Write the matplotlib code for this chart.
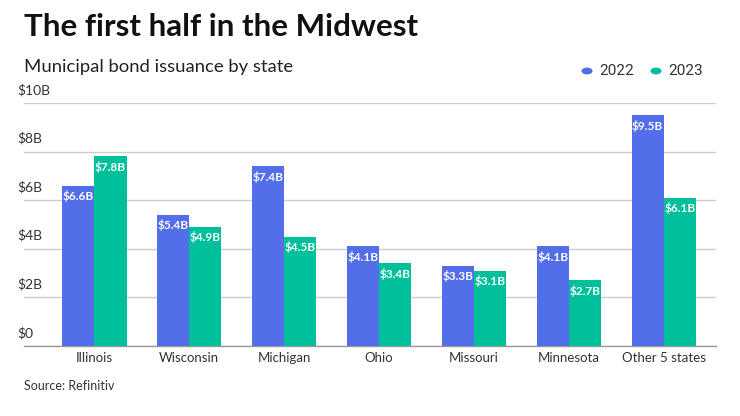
import numpy as np
import matplotlib.pyplot as plt

# data (billions of dollars)
states = ["Illinois", "Wisconsin", "Michigan", "Ohio", "Missouri", "Minnesota", "Other 5 states"]
y2022 = [6.6, 5.4, 7.4, 4.1, 3.3, 4.1, 9.5]
y2023 = [7.8, 4.9, 4.5, 3.4, 3.1, 2.7, 6.1]
yticks = [0, 2, 4, 6, 8, 10]
ytick_labels = ["$0", "$2B", "$4B", "$6B", "$8B", "$10B"]

blue = "#526EE8"
green = "#00BF9B"
font = ["Lato", "DejaVu Sans"]

plt.rcParams['font.family'] = font

fig = plt.figure(figsize=(7.4, 4.16), dpi=100)
ax = fig.add_axes([24 / 740, 1 - 346 / 416, (716 - 24) / 740, (346 - 103) / 416])

x = np.arange(len(states))
w = 0.34
b1 = ax.bar(x - w / 2, y2022, w, color=blue, zorder=3)
b2 = ax.bar(x + w / 2, y2023, w, color=green, zorder=3)

# value labels inside the top of each bar
for bars, vals in ((b1, y2022), (b2, y2023)):
    for bar, v in zip(bars, vals):
        ax.annotate(f"${v}B", (bar.get_x() + bar.get_width() / 2, v),
                    xytext=(0, -7.5), textcoords="offset points",
                    ha="center", va="center", color="white",
                    fontsize=8.5, fontweight="bold", zorder=4)

ax.set_xlim(-0.74, 6.55)
ax.set_ylim(0, 10)
ax.set_yticks(yticks)
ax.set_yticklabels([])
ax.tick_params(axis="y", length=0)
ax.grid(axis="y", color="#cccccc", linewidth=1, zorder=0)

# y labels sit above the gridlines, left aligned
for t, lab in zip(yticks, ytick_labels):
    ax.annotate(lab, (0, t), xycoords=("axes fraction", "data"),
                xytext=(-5, 5), textcoords="offset points",
                ha="left", va="bottom", fontsize=10, color="#333333")

ax.set_xticks(x)
ax.set_xticklabels(states, fontsize=9.5, color="#333333")
ax.tick_params(axis="x", length=0, pad=4)

for s in ("top", "right", "left"):
    ax.spines[s].set_visible(False)
ax.spines["bottom"].set_color("#999999")
ax.spines["bottom"].set_linewidth(1)

fig.text(24 / 740, 1 - 27 / 416, "The first half in the Midwest",
         fontsize=22.5, fontweight="bold", color="#111111", va="center", ha="left")
fig.text(24 / 740, 1 - 67 / 416, "Municipal bond issuance by state",
         fontsize=13.3, color="#222222", va="center", ha="left")
fig.text(24 / 740, 1 - 386 / 416, "Source: Refinitiv",
         fontsize=9, color="#333333", va="center", ha="left")

# legend
ly = 1 - 71 / 416
for xd, xt, c, lab in ((587, 599, blue, "2022"), (656, 668, green, "2023")):
    fig.patches.append(plt.Circle((xd / 740, ly), 4.8 / 740, transform=fig.transFigure,
                                  color=c, figure=fig))
    fig.text(xt / 740, ly, lab, fontsize=11, color="#333333", va="center", ha="left",
             family=["Roboto", "DejaVu Sans"])

fig.savefig("out.png", dpi=100)
